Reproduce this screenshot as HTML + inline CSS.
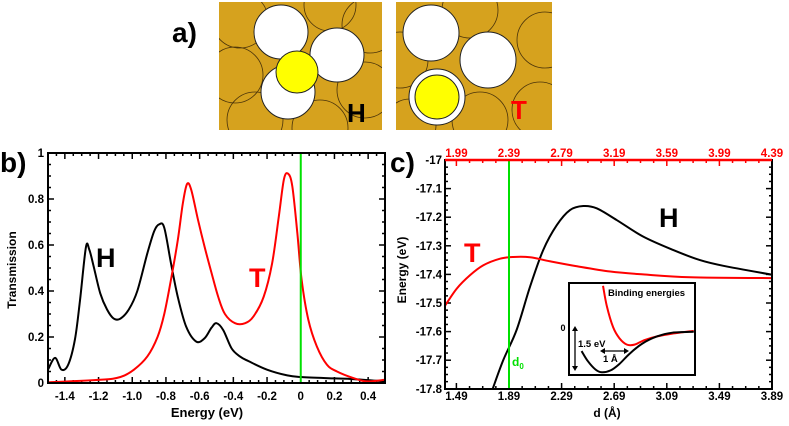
<!DOCTYPE html>
<html><head><meta charset="utf-8"><style>
html,body{margin:0;padding:0;background:#fff}
svg{display:block;font-family:"Liberation Sans",Arial,sans-serif}
.t{font-weight:bold;font-size:11.5px}
</style></head><body>
<svg id="fig" width="789" height="426" viewBox="0 0 789 426">
<defs>
<clipPath id="clipH"><rect x="219" y="2" width="163" height="128"/></clipPath>
<clipPath id="clipT"><rect x="396" y="2" width="156" height="128"/></clipPath>
<clipPath id="clipB"><rect x="48" y="153" width="337" height="230"/></clipPath>
<clipPath id="clipC"><rect x="445" y="160" width="327" height="229"/></clipPath>
<clipPath id="clipI"><rect x="569" y="283" width="126" height="92"/></clipPath>
</defs>
<g>
<text x="172" y="42" font-size="28" font-weight="bold">a)</text>
<g clip-path="url(#clipH)">
<rect x="219" y="2" width="163" height="128" fill="#d6a21e"/>
<g fill="none" stroke="#4a330a" stroke-width="0.8">
<circle cx="240" cy="20" r="28"/><circle cx="235" cy="75" r="28"/><circle cx="255" cy="120" r="28"/><circle cx="370" cy="25" r="28"/><circle cx="365" cy="90" r="28"/><circle cx="320" cy="128" r="28"/><circle cx="330" cy="5" r="26"/>
</g>
<circle cx="281" cy="32" r="27" fill="#fff" stroke="#222" stroke-width="1"/>
<circle cx="337" cy="55" r="27" fill="#fff" stroke="#222" stroke-width="1"/>
<circle cx="288" cy="92" r="27" fill="#fff" stroke="#222" stroke-width="1"/>
<circle cx="297" cy="72" r="21" fill="#ffff00" stroke="#222" stroke-width="1"/>
<text x="347" y="122" font-size="26" font-weight="bold" fill="#000">H</text>
</g>
<g clip-path="url(#clipT)">
<rect x="396" y="2" width="156" height="128" fill="#d6a21e"/>
<g fill="none" stroke="#4a330a" stroke-width="0.8">
<circle cx="400" cy="60" r="28"/><circle cx="470" cy="10" r="28"/><circle cx="545" cy="40" r="28"/><circle cx="540" cy="110" r="28"/><circle cx="480" cy="120" r="28"/><circle cx="410" cy="125" r="26"/>
</g>
<circle cx="431" cy="33" r="28" fill="#fff" stroke="#222" stroke-width="1"/>
<circle cx="488" cy="60" r="28" fill="#fff" stroke="#222" stroke-width="1"/>
<circle cx="437" cy="97" r="28" fill="#fff" stroke="#222" stroke-width="1"/>
<circle cx="437" cy="97" r="22" fill="#ffff00" stroke="#222" stroke-width="1"/>
<text x="511" y="119" font-size="26" font-weight="bold" fill="#ff0000">T</text>
</g>
</g>
<text x="0" y="172" font-size="28" font-weight="bold">b)</text>
<text x="390" y="172" font-size="28" font-weight="bold">c)</text>
<g id="pb"></g>
<g id="pc"></g>
</svg>
<script>
// Panel b data
const bXTicks = [-1.4,-1.2,-1.0,-0.8,-0.6,-0.4,-0.2,0,0.2,0.4];
const bXTickLabels = ["-1.4","-1.2","-1.0","-0.8","-0.6","-0.4","-0.2","0","0.2","0.4"];
const bYTicks = [0,0.2,0.4,0.6,0.8,1];
const bYTickLabels = ["0","0.2","0.4","0.6","0.8","1"];
const hEnergy = [-1.5,-1.458,-1.42,-1.38,-1.34,-1.31,-1.275,-1.255,-1.23,-1.19,-1.15,-1.11,-1.07,-1.02,-0.97,-0.91,-0.87,-0.84,-0.81,-0.77,-0.73,-0.68,-0.62,-0.57,-0.53,-0.5,-0.46,-0.41,-0.36,-0.31,-0.2,-0.08,0,0.2,0.31,0.5];
const hTrans = [0.058,0.109,0.058,0.08,0.19,0.36,0.59,0.58,0.51,0.39,0.32,0.28,0.28,0.32,0.40,0.565,0.66,0.69,0.675,0.52,0.375,0.245,0.18,0.195,0.24,0.26,0.23,0.15,0.115,0.095,0.058,0.033,0.026,0.02,0.017,0.007];
const tEnergy = [-1.5,-1.19,-1.07,-0.99,-0.91,-0.85,-0.81,-0.77,-0.73,-0.70,-0.675,-0.65,-0.61,-0.57,-0.53,-0.49,-0.45,-0.39,-0.33,-0.28,-0.22,-0.17,-0.13,-0.10,-0.075,-0.05,-0.02,0.005,0.045,0.095,0.155,0.215,0.31,0.39,0.5];
const tTrans = [0.003,0.014,0.026,0.058,0.116,0.2,0.30,0.45,0.62,0.78,0.865,0.84,0.71,0.59,0.48,0.375,0.30,0.26,0.26,0.29,0.375,0.52,0.725,0.885,0.91,0.855,0.65,0.45,0.275,0.16,0.08,0.05,0.022,0.007,0.014];
const bFermi = [0];
// Panel c data
const cXTicks = [1.49,1.89,2.29,2.69,3.09,3.49,3.89];
const cXTickLabels = ["1.49","1.89","2.29","2.69","3.09","3.49","3.89"];
const cTopTickLabels = ["1.99","2.39","2.79","3.19","3.59","3.99","4.39"];
const cYTicks = [-17.8,-17.7,-17.6,-17.5,-17.4,-17.3,-17.2,-17.1,-17];
const cYTickLabels = ["-17.8","-17.7","-17.6","-17.5","-17.4","-17.3","-17.2","-17.1","-17"];
const hDist = [1.766,1.847,1.948,2.05,2.15,2.253,2.354,2.455,2.557,2.709,2.911,3.14,3.342,3.52,3.888];
const hEnergyC = [-17.8,-17.699,-17.594,-17.443,-17.315,-17.228,-17.175,-17.161,-17.169,-17.21,-17.268,-17.315,-17.35,-17.37,-17.401];
const tDist = [1.403,1.492,1.593,1.695,1.822,1.923,2.05,2.2,2.40,2.66,2.91,3.27,3.888];
const tEnergyC = [-17.51,-17.45,-17.403,-17.368,-17.345,-17.339,-17.34,-17.354,-17.371,-17.39,-17.40,-17.41,-17.413];
const d0 = [1.89];
// inset (normalised units 0..1)
const insetRedU = [0.27,0.30,0.35,0.40,0.46,0.52,0.60,0.70,0.82,0.99];
const insetRedV = [0.03,0.25,0.48,0.60,0.67,0.67,0.62,0.58,0.55,0.52];
const insetBlkU = [0.10,0.15,0.21,0.26,0.33,0.40,0.48,0.58,0.70,0.82,0.99];
const insetBlkV = [0.74,0.85,0.94,0.97,0.95,0.88,0.77,0.66,0.58,0.54,0.53];

const NS="http://www.w3.org/2000/svg";
function mk(parent,tag,attrs){const e=document.createElementNS(NS,tag);for(const k in attrs)e.setAttribute(k,attrs[k]);parent.appendChild(e);return e;}
function txt(parent,x,y,s,anchor,cls,fill){const e=mk(parent,'text',{x:x,y:y,'text-anchor':anchor,'class':cls||'t',fill:fill||'#000'});e.textContent=s;return e;}
function smooth(pts){let d='M'+pts[0][0]+','+pts[0][1];
 for(let i=0;i<pts.length-1;i++){const p0=pts[Math.max(0,i-1)],p1=pts[i],p2=pts[i+1],p3=pts[Math.min(pts.length-1,i+2)];
  const c1x=p1[0]+(p2[0]-p0[0])/6,c1y=p1[1]+(p2[1]-p0[1])/6,c2x=p2[0]-(p3[0]-p1[0])/6,c2y=p2[1]-(p3[1]-p1[1])/6;
  d+=' C'+c1x+','+c1y+' '+c2x+','+c2y+' '+p2[0]+','+p2[1];}
 return d;}

// ---------- Panel b ----------
(function(){
const g=document.getElementById('pb');
const L=48,R=385,T=153,B=383;
const xs=v=>L+(v+1.5)/2.0*(R-L);
const ys=v=>B-v*(B-T);
for(let v=-1.5;v<=0.5001;v+=0.05){const x=xs(v);const big=Math.abs(Math.round(v*5)-v*5)<1e-6;const len=big?6:3;
 const t1=mk(g,'line',{x1:x,y1:B,x2:x,y2:B-len,stroke:'#000','stroke-width':1.5});
 
 mk(g,'line',{x1:x,y1:T,x2:x,y2:T+len,stroke:'#000','stroke-width':1.5});}
for(let v=0;v<=1.0001;v+=0.05){const y=ys(v);const big=Math.abs(Math.round(v*5)-v*5)<1e-6;const len=big?6:3;
 const t1=mk(g,'line',{x1:L,y1:y,x2:L+len,y2:y,stroke:'#000','stroke-width':1.5});
 
 mk(g,'line',{x1:R,y1:y,x2:R-len,y2:y,stroke:'#000','stroke-width':1.5});}
bXTicks.forEach((v,i)=>{const e=txt(g,xs(v),400,bXTickLabels[i],'middle');});
bYTicks.forEach((v,i)=>{const e=txt(g,44,ys(v)+4,bYTickLabels[i],'end');});
const xt=txt(g,207,417,'Energy (eV)','middle');xt.style.fontSize='13px';

const yt=txt(g,0,0,'Transmission','middle');yt.style.fontSize='12px';yt.setAttribute('transform','translate(16,270) rotate(-90)');

const cg=mk(g,'g',{'clip-path':'url(#clipB)'});
const hp=mk(cg,'path',{d:smooth(hEnergy.map((e,i)=>[xs(e),ys(hTrans[i])])),fill:'none',stroke:'#000','stroke-width':2,'stroke-linejoin':'round'});

const tp=mk(cg,'path',{d:smooth(tEnergy.map((e,i)=>[xs(e),ys(tTrans[i])])),fill:'none',stroke:'#ff0000','stroke-width':2,'stroke-linejoin':'round'});

const fl=mk(g,'line',{x1:xs(bFermi[0]),y1:T,x2:xs(bFermi[0]),y2:B,stroke:'#00e000','stroke-width':2});

const fr=mk(g,'rect',{x:L,y:T,width:R-L,height:B-T,fill:'none',stroke:'#000','stroke-width':2});

const hl=txt(g,96,267,'H','start');hl.style.fontSize='27px';

const tl=txt(g,249,287,'T','start','t','#ff0000');tl.style.fontSize='27px';

})();

// ---------- Panel c ----------
(function(){
const g=document.getElementById('pc');
const L=445,R=772,T=160,B=389;
const x0=1.89,px0=509,ppu=131.5;
const xs=v=>px0+(v-x0)*ppu;
const ys=v=>T+(-17-v)*286;
for(let v=1.49-0.1;v<=3.90;v+=0.1){const x=xs(v);if(x<L-0.5||x>R+0.5)continue;const big=Math.abs(((v-1.49)/0.4)-Math.round((v-1.49)/0.4))<1e-6;const len=big?6:3;
 const t1=mk(g,'line',{x1:x,y1:B,x2:x,y2:B-len,stroke:'#000','stroke-width':1.5});
 
 mk(g,'line',{x1:x,y1:T,x2:x,y2:T+len,stroke:'#ff0000','stroke-width':1.5});}
for(let k=0;k<=32;k++){const v=-17.8+k*0.025;const y=ys(v);const len=(k%4===0)?6:3;
 const t1=mk(g,'line',{x1:L,y1:y,x2:L+len,y2:y,stroke:'#000','stroke-width':1.5});
 
 mk(g,'line',{x1:R,y1:y,x2:R-len,y2:y,stroke:'#000','stroke-width':1.5});}
cXTicks.forEach((v,i)=>{const e=txt(g,xs(v),400,cXTickLabels[i],'middle');
 const e2=txt(g,xs(v),157,cTopTickLabels[i],'middle','t','#ff0000');});
cYTicks.forEach((v,i)=>{const e=txt(g,442,ys(v)+4,cYTickLabels[i],'end');});
const xt=txt(g,607,417,'d (Å)','middle');xt.style.fontSize='12px';

const yt=txt(g,0,0,'Energy (eV)','middle');yt.style.fontSize='12px';yt.setAttribute('transform','translate(406,270) rotate(-90)');

const cg=mk(g,'g',{'clip-path':'url(#clipC)'});
const hp=mk(cg,'path',{d:smooth(hDist.map((d,i)=>[xs(d),ys(hEnergyC[i])])),fill:'none',stroke:'#000','stroke-width':2,'stroke-linejoin':'round'});

const tp=mk(cg,'path',{d:smooth(tDist.map((d,i)=>[xs(d),ys(tEnergyC[i])])),fill:'none',stroke:'#ff0000','stroke-width':2,'stroke-linejoin':'round'});

const gl=mk(g,'line',{x1:xs(d0[0]),y1:T,x2:xs(d0[0]),y2:B,stroke:'#00e000','stroke-width':2});

const dl=txt(g,xs(d0[0])+3,366,'d','start','t','#00e000');dl.style.fontSize='12px';
const sub=document.createElementNS(NS,'tspan');sub.setAttribute('dy','3');sub.style.fontSize='8px';sub.textContent='0';dl.appendChild(sub);

const fr=mk(g,'rect',{x:L,y:T,width:R-L,height:B-T,fill:'none',stroke:'#000','stroke-width':2});

mk(g,'line',{x1:L,y1:T,x2:R,y2:T,stroke:'#ff0000','stroke-width':2.5});
const hl=txt(g,659,227,'H','start');hl.style.fontSize='27px';

const tl=txt(g,464,262,'T','start','t','#ff0000');tl.style.fontSize='27px';

// inset
const IL=569,IT=283,IW=126,IH=92;
const iu=u=>IL+u*IW, iv=v=>IT+v*IH;
const ig=mk(g,'g',{});

mk(ig,'rect',{x:IL,y:IT,width:IW,height:IH,fill:'#fff',stroke:'#000','stroke-width':2});
const icg=mk(ig,'g',{'clip-path':'url(#clipI)'});
const ir=mk(icg,'path',{d:smooth(insetRedU.map((u,i)=>[iu(u),iv(insetRedV[i])])),fill:'none',stroke:'#ff0000','stroke-width':2,'stroke-linejoin':'round'});

const ib=mk(icg,'path',{d:smooth(insetBlkU.map((u,i)=>[iu(u),iv(insetBlkV[i])])),fill:'none',stroke:'#000','stroke-width':2,'stroke-linejoin':'round'});

const bt=txt(ig,608,296,'Binding energies','start');bt.style.fontSize='9.5px';

const z=txt(ig,563,331,'0','middle');z.style.fontSize='9px';

mk(ig,'line',{x1:575,y1:330,x2:575,y2:367,stroke:'#000','stroke-width':1.3});
mk(ig,'path',{d:'M572,331 L575,326 L578,331 Z M572,366 L575,371 L578,366 Z',fill:'#000'});
const ev=txt(ig,578,347,'1.5 eV','start');ev.style.fontSize='9.5px';

mk(ig,'line',{x1:604,y1:351,x2:625,y2:351,stroke:'#000','stroke-width':1.3});
mk(ig,'path',{d:'M605,348 L600,351 L605,354 Z M624,348 L629,351 L624,354 Z',fill:'#000'});
const an=txt(ig,603,362,'1 Å','start');an.style.fontSize='9.5px';

})();
</script>
</body></html>
